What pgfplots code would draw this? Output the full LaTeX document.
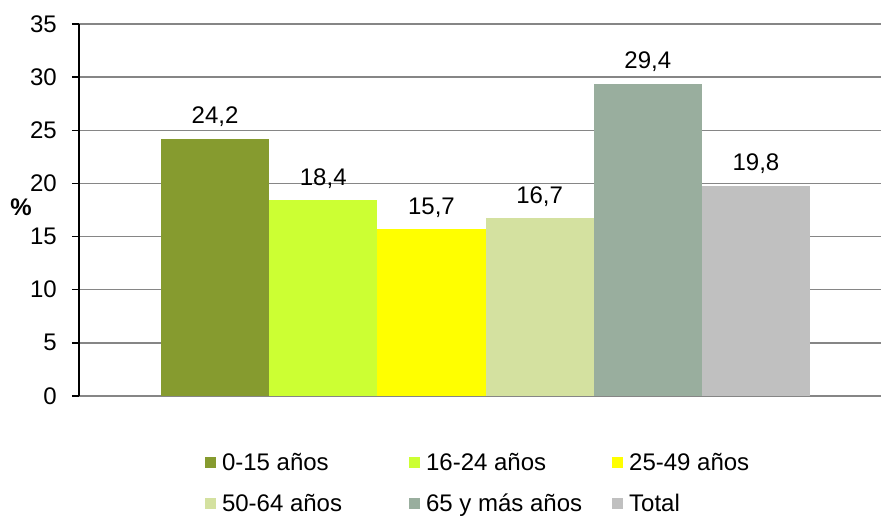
\documentclass[border=0pt]{standalone}
\usepackage{pgfplots}
\pgfplotsset{compat=1.18}
\usepackage{fontspec}
\setmainfont{Liberation Sans}

\definecolor{c1}{RGB}{134,155,47}
\definecolor{c2}{RGB}{204,255,51}
\definecolor{c3}{RGB}{255,255,0}
\definecolor{c4}{RGB}{212,225,160}
\definecolor{c5}{RGB}{153,174,158}
\definecolor{c6}{RGB}{192,192,192}
\definecolor{gridgray}{RGB}{134,134,134}

\pgfplotsset{
  sqbar/.style={ybar, bar width=1, bar shift=0pt, draw=none, fill=#1,
    legend image code/.code={\fill[#1] (0pt,-5.5pt) rectangle (11pt,5.5pt);}},
}

\begin{document}
\fontsize{24}{29}\selectfont
\begin{tikzpicture}
\path[use as bounding box] (0,0) rectangle (881pt,516pt);
\begin{axis}[
  at={(79pt,120pt)}, anchor=south west,
  width=802pt, height=372pt, scale only axis,
  xmin=-1.258, xmax=6.156,
  ymin=0, ymax=35,
  ytick={0,5,...,35},
  xtick=\empty,
  axis x line=none,
  axis y line*=left,
  axis line style={black, line width=1.4pt},
  ymajorgrids,
  major grid style={draw=gridgray, line width=1.3pt},
  tick align=outside,
  major tick length=7pt,
  ytick style={black, line width=1.3pt},
  yticklabel style={xshift=-7pt},
  /pgf/number format/assume math mode=true,
  nodes near coords={\pgfmathprintnumber[use comma,fixed,fixed zerofill,precision=1]{\pgfplotspointmeta}},
  every node near coord/.append style={anchor=base, yshift=15pt, inner sep=0pt},
  legend columns=3,
  legend cell align=left,
  legend style={at={(0.1571,-0.1546)}, anchor=north west, draw=none, fill=none,
    inner sep=0pt, outer sep=0pt, row sep=24pt,
    nodes={inner sep=0pt, text height=17pt, text depth=0pt},
    /tikz/every odd column/.style={column sep=6pt},
    /tikz/column 2/.style={column sep=67pt},
    /tikz/column 4/.style={column sep=30pt}},
]
\addplot[sqbar=c1] coordinates {(0,24.2)};
\addlegendentry{0-15 años}
\addplot[sqbar=c2] coordinates {(1,18.4)};
\addlegendentry{16-24 años}
\addplot[sqbar=c3] coordinates {(2,15.7)};
\addlegendentry{25-49 años}
\addplot[sqbar=c4] coordinates {(3,16.7)};
\addlegendentry{50-64 años}
\addplot[sqbar=c5] coordinates {(4,29.4)};
\addlegendentry{65 y más años}
\addplot[sqbar=c6] coordinates {(5,19.8)};
\addlegendentry{Total}
\end{axis}
\node[font=\bfseries] at (21pt,309pt) {\%};
\end{tikzpicture}
\end{document}
